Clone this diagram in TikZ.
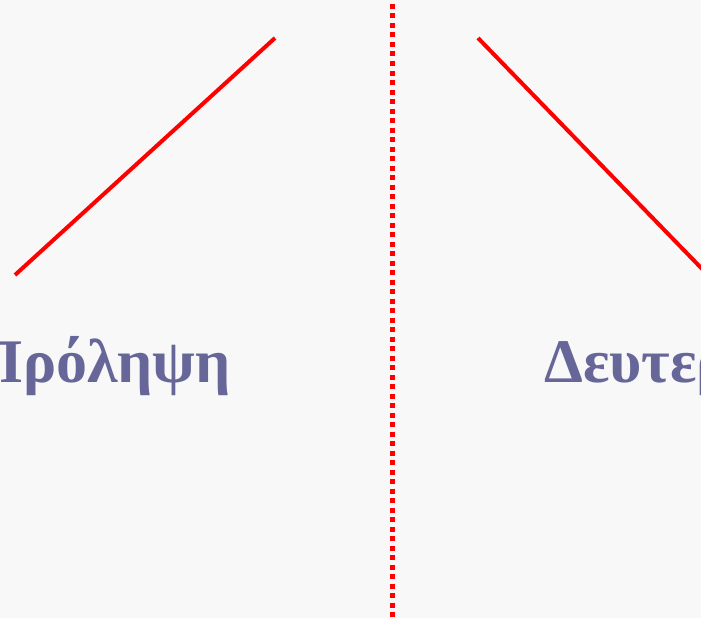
\documentclass[tikz,border=0pt]{standalone}
\usepackage{fontspec}
\setmainfont{Liberation Serif}
\usepackage{xcolor}
\usepackage{tikz}
\usetikzlibrary{positioning}

\definecolor{slidebg}{RGB}{248,248,248}
\definecolor{titleblue}{RGB}{102,102,153}

\begin{document}
\begin{tikzpicture}[
    x=1pt, y=-1pt,
    branch/.style={draw=red, line width=4pt},
    divider/.style={draw=red, line width=5pt, dash pattern=on 5pt off 4.5pt},
    heading/.style={font=\fontsize{62}{70}\selectfont\bfseries,
                    text=titleblue, inner sep=0pt}
]
% background and frame
\fill[slidebg] (0,0) rectangle (701,618);
\useasboundingbox (0,0) rectangle (701,618);
\clip (0,0) rectangle (701,618);

% end points of the two branches
\coordinate (lefttop) at (275,38);
\coordinate (leftbot) at (15,275);
\coordinate (righttop) at (478,38);
\coordinate (rightbot) at (708,275);
\coordinate (divtop) at (392,4);
\coordinate (divbot) at (392,618);

% headings
\node[heading, anchor=base east] (prevent) at (231,382) {Πρόληψη};
\node[heading, anchor=base west] (second) at (544,382) {Δευτερογενής};

% lines
\draw[branch] (leftbot) -- (lefttop);
\draw[branch] (righttop) -- (rightbot);
\draw[divider] (divtop) -- (divbot);

\end{tikzpicture}
\end{document}
